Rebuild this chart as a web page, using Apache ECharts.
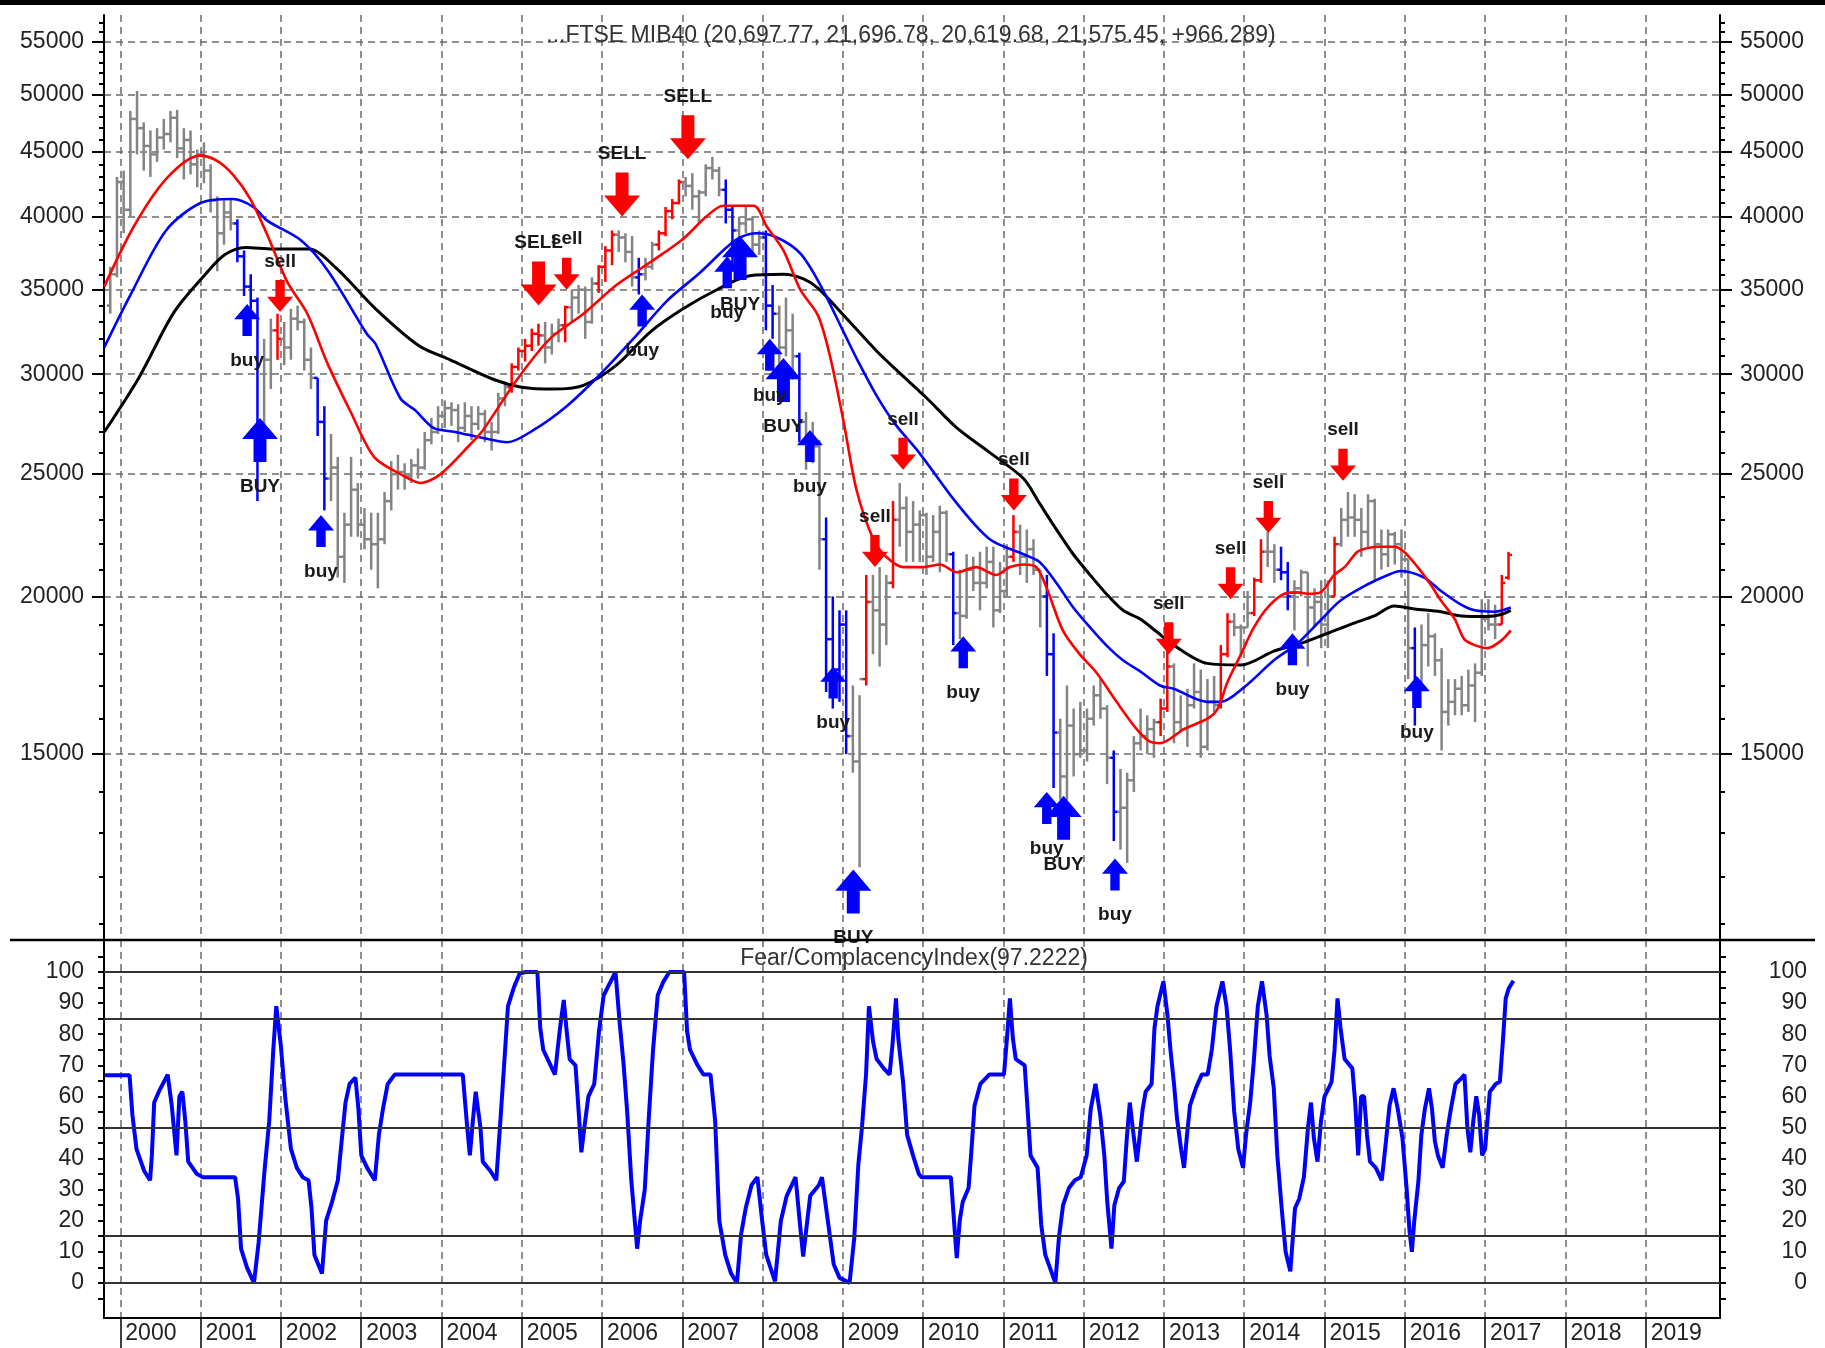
<!DOCTYPE html>
<html>
<head>
<meta charset="utf-8">
<title>FTSE MIB40 - Fear/Complacency Index</title>
<script src="https://cdn.jsdelivr.net/npm/echarts@6/dist/echarts.min.js"></script>
<style>
html, body { margin: 0; padding: 0; background: #fff; }
#chart { width: 1825px; height: 1348px; }
</style>
</head>
<body>
<div id="chart"></div>
<script>
// monthly OHLC bars, first bar = Nov 1999
const barStart = [1999, 11]
const opens = [
    34000, 36000,
    42600, 40500, 47800, 47000, 45500, 44800, 46200, 46500, 47900, 45300, 46000, 44000,
    44800, 43500, 41200, 38800, 40300, 39500, 37200, 35200, 34300, 27500, 30800, 32500,
    32000, 31500, 33200, 33000, 30800, 29800, 27500, 24800, 25300, 21500, 22800, 24300,
    22800, 22200, 22000, 22200, 23800, 25000, 25100, 24900, 25400, 25300, 26600, 27000,
    27800, 28200, 28100, 27200, 27800, 27400, 27900, 27000, 27000, 28700, 29300, 30400,
    31300, 31600, 32300, 32200, 31500, 32300, 32800, 33900, 34500, 35000, 33000, 35400,
    36500, 37600, 38700, 38500, 37500, 35800, 36000, 36500, 38000, 38800, 40400, 41000,
    42600, 42300, 41500, 41800, 43700, 43500, 42000, 40500, 39000, 39500, 39800, 38000,
    38500, 34000, 33500, 31500, 32500, 31000, 27500, 26500, 26300, 22200, 18500, 17500,
    19000, 15500, 14800, 17200, 19800, 19500, 19000, 20500, 23000, 23500, 22500, 22800,
    23200, 21500, 22500, 23300, 21600, 19400, 19300, 21000, 20500, 20500, 21300, 19500,
    20200, 21500, 22500, 21500, 21800, 21000, 20000, 18000, 15600, 14400, 15800, 15000,
    15100, 16000, 16700, 16300, 14900, 13500, 13600, 14300, 15300, 15500, 15700, 15900,
    16300, 17600, 15900, 15700, 16400, 16800, 15200, 16500, 16400, 18000, 19100, 18900,
    18900, 19400, 20600, 21700, 21700, 21000, 20900, 20000, 20300, 20900, 19600, 19800,
    19000, 20000, 22000, 23000, 23100, 23000, 22500, 23800, 22000, 21600, 22400, 22000,
    21400, 18200, 17000, 18300, 18600, 17800, 16200, 16500, 16900, 16400, 17000, 17400,
    19200, 19000, 19000, 20697.77
]
const highs = [
    36500, 43000,
    43500, 48500, 50300, 47500, 46800, 47000, 47800, 48500, 48600, 47000, 46800, 45200,
    45800, 44000, 41500, 41200, 41300, 39800, 37600, 36000, 34500, 32000, 33200, 33500,
    33000, 33800, 34000, 33200, 31500, 29800, 28300, 26900, 25800, 23300, 25800, 24600,
    23500, 23300, 23300, 24200, 25600, 25900, 25500, 25700, 26200, 27000, 27700, 28300,
    28600, 28500, 28400, 28500, 28300, 28300, 28100, 27500, 29000, 29600, 30600, 31500,
    32000, 32600, 32900, 33000, 32900, 33200, 34000, 35000, 35300, 35200, 35800, 36600,
    37900, 39000, 39000, 38800, 38600, 37100, 37100, 38200, 39000, 40700, 41300, 42800,
    43000, 43300, 42000, 44000, 44600, 43800, 42800, 40800, 40000, 40800, 40000, 39000,
    39000, 35300, 34000, 34500, 33500, 31200, 28000, 27500, 26600, 23100, 20000, 19500,
    19500, 17000, 16700, 20800, 20800, 21100, 20800, 23800, 24600, 24000, 23800, 23400,
    23300, 23200, 23600, 23400, 21700, 21000, 21600, 21500, 21700, 21900, 21900, 21300,
    22000, 23200, 22800, 22600, 22200, 21000, 20800, 18700, 16000, 17000, 16300, 16500,
    16300, 17000, 17200, 16400, 15100, 14600, 14500, 15500, 16300, 16100, 16000, 16600,
    18100, 17700, 16700, 16900, 17700, 17500, 17200, 17300, 18300, 19400, 19400, 19000,
    20200, 20700, 22200, 22500, 22000, 21900, 21300, 20600, 21000, 20900, 20300, 20600,
    20600, 22300, 23500, 24200, 24100, 23500, 24100, 23900, 22600, 22600, 22500, 22600,
    21400, 18900, 19000, 19400, 18700, 18200, 17200, 17200, 17300, 17500, 17700, 19900,
    19900, 19700, 20800, 21696.78
]
const lows = [
    33500, 35800,
    38800, 40000, 44800, 43500, 43000, 44200, 45200, 45800, 44500, 42800, 43200, 42200,
    42500, 40300, 36200, 38000, 39000, 36800, 34600, 33800, 23800, 27000, 29200, 30800,
    30500, 30800, 32500, 30200, 29200, 26800, 23400, 23800, 20700, 20500, 22300, 22300,
    21800, 21000, 20300, 22000, 23400, 24300, 24300, 24600, 24800, 25200, 26400, 26900,
    27200, 27300, 26500, 27000, 26600, 27100, 26500, 26100, 26900, 28300, 29000, 30200,
    30700, 31300, 31600, 30600, 31100, 31800, 31800, 33000, 33500, 32000, 32900, 34800,
    35500, 36600, 37500, 36800, 35200, 34700, 35600, 36300, 37600, 38600, 39800, 40900,
    41500, 40500, 39500, 41500, 42800, 41500, 39500, 36500, 37800, 38800, 37200, 37300,
    32500, 32000, 29800, 31000, 29700, 26500, 25200, 25500, 21000, 16800, 16300, 16500,
    15000, 14500, 12200, 17000, 18000, 17600, 18300, 20300, 21900, 21300, 21300, 21300,
    20800, 21300, 20900, 21300, 18300, 18500, 19200, 20200, 19500, 20300, 18900, 19400,
    20000, 21300, 20800, 20500, 20800, 18900, 17300, 14100, 13800, 13800, 14400, 14900,
    14800, 15800, 16000, 14200, 12800, 12600, 12300, 14000, 15100, 15000, 14900, 15500,
    16200, 15300, 15600, 15200, 16300, 14900, 15100, 16200, 16300, 17900, 18600, 17900,
    18900, 19300, 20500, 21100, 20500, 20600, 19500, 18800, 20000, 17600, 18900, 18200,
    18200, 20000, 21900, 22300, 22300, 21500, 21900, 20600, 21000, 21100, 21200, 20700,
    17200, 15800, 17000, 17600, 17300, 15100, 15800, 16100, 16100, 16200, 15900, 17300,
    18800, 18500, 19000, 20619.68
]
const closes = [
    36000, 42600,
    40500, 47800, 47000, 45500, 44800, 46200, 46500, 47900, 45300, 46000, 44000, 44800,
    43500, 41200, 38800, 40300, 39500, 37200, 35200, 34300, 27500, 30800, 32500, 32000,
    31500, 33200, 33000, 30800, 29800, 27500, 24800, 25300, 21500, 22800, 24300, 22800,
    22200, 22000, 22200, 23800, 25000, 25100, 24900, 25400, 25300, 26600, 27000, 27800,
    28200, 28100, 27200, 27800, 27400, 27900, 27000, 27000, 28700, 29300, 30400, 31300,
    31600, 32300, 32200, 31500, 32300, 32800, 33900, 34500, 35000, 33000, 35400, 36500,
    37600, 38700, 38500, 37500, 35800, 36000, 36500, 38000, 38800, 40400, 41000, 42600,
    42300, 41500, 41800, 43700, 43500, 42000, 40500, 39000, 39500, 39800, 38000, 38500,
    34000, 33500, 31500, 32500, 31000, 27500, 26500, 26300, 22200, 18500, 17500, 19000,
    15500, 14800, 17200, 19800, 19500, 19000, 20500, 23000, 23500, 22500, 22800, 23200,
    21500, 22500, 23300, 21600, 19400, 19300, 21000, 20500, 20500, 21300, 19500, 20200,
    21500, 22500, 21500, 21800, 21000, 20000, 18000, 15600, 14400, 15800, 15000, 15100,
    16000, 16700, 16300, 14900, 13500, 13600, 14300, 15300, 15500, 15700, 15900, 16300,
    17600, 15900, 15700, 16400, 16800, 15200, 16500, 16400, 18000, 19100, 18900, 18900,
    19400, 20600, 21700, 21700, 21000, 20900, 20000, 20300, 20900, 19600, 19800, 19000,
    20000, 22000, 23000, 23100, 23000, 22500, 23800, 22000, 21600, 22400, 22000, 21400,
    18200, 17000, 18300, 18600, 17800, 16200, 16500, 16900, 16400, 17000, 17400, 19200,
    19000, 19000, 20500, 21575.45
]
// bar colour state per month: g = normal, r = sell zone, b = buy zone
const barStates = [
    'gg',
    'gggggggggggg', 'gggggbbbbggr', 'gggggbbggggg', 'gggggggggggg', 'ggggggggggrr',
    'rrrgggrggggr', 'rrgggbggrrrr', 'ggggggbbgggg', 'bbgggbgggbbb', 'bggrgggrgggg',
    'ggggbggggggg', 'grggggbbgggg', 'ggggbggggggr', 'rgggggggrrgg', 'grrggbbggggg',
    'grgggggggggg', 'gbgggggggggg', 'ggrr'
].join('')

// moving averages [decimal year, value]
const blackMA = [
    [1999.80, 27000], [2000.23, 29800], [2000.67, 33600], [2001.06, 36000], [2001.30, 37300],
    [2001.56, 37800], [2001.90, 37700], [2002.35, 37700], [2002.69, 36400], [2003.18, 33800],
    [2003.72, 31600], [2004.11, 30800], [2004.66, 29700], [2005.00, 29300], [2005.39, 29200],
    [2005.77, 29400], [2006.18, 30500], [2006.60, 32400], [2007.01, 33800], [2007.43, 35000],
    [2007.84, 35900], [2008.26, 36000], [2008.51, 35700], [2008.69, 35100], [2009.03, 33300],
    [2009.42, 31300], [2009.70, 30100], [2010.05, 28700], [2010.42, 27200],
    [2010.83, 26000], [2011.25, 24800], [2011.45, 23700], [2011.66, 22600], [2011.87, 21600],
    [2012.08, 20800], [2012.28, 20100], [2012.49, 19500], [2012.70, 19200], [2012.91, 18750],
    [2013.12, 18300], [2013.54, 17700], [2013.96, 17650], [2014.37, 18100], [2014.70, 18350],
    [2015.04, 18700], [2015.37, 19050], [2015.62, 19300], [2015.87, 19650], [2016.12, 19550],
    [2016.45, 19450], [2016.70, 19300], [2017.03, 19280], [2017.20, 19350], [2017.32, 19500]
]
const blueMA = [
    [1999.80, 31500], [2000.13, 34700], [2000.57, 39000], [2001.00, 41000], [2001.40, 41300],
    [2001.66, 40700], [2001.83, 39700], [2002.25, 38300], [2002.59, 36200], [2003.07, 32300],
    [2003.18, 31700], [2003.49, 28700], [2003.67, 28100], [2003.90, 27200], [2004.17, 27000],
    [2004.52, 26700], [2004.82, 26500], [2005.15, 27100], [2005.56, 28300], [2005.98, 30000],
    [2006.39, 32000], [2006.81, 34300], [2007.22, 36100], [2007.55, 37800], [2007.72, 38500],
    [2007.93, 38800], [2008.18, 38500], [2008.47, 37400], [2008.72, 35300], [2009.03, 32200],
    [2009.18, 30800], [2009.42, 28850], [2009.65, 27400], [2009.95, 26000],
    [2010.42, 23700], [2010.83, 22200], [2011.25, 21600], [2011.45, 21300], [2011.66, 20500],
    [2011.87, 19600], [2012.08, 18900], [2012.28, 18300], [2012.49, 17800], [2012.70, 17450],
    [2012.95, 17000], [2013.12, 16900], [2013.54, 16500], [2013.71, 16500], [2014.00, 16950],
    [2014.37, 17800], [2014.66, 18350], [2014.95, 19150], [2015.20, 19850], [2015.54, 20450],
    [2015.79, 20800], [2015.95, 20950], [2016.24, 20700], [2016.45, 20200], [2016.70, 19700],
    [2016.87, 19500], [2017.12, 19450], [2017.32, 19600]
]
const redMA = [
    [1999.80, 35200], [2000.17, 39300], [2000.58, 42900], [2000.99, 44700], [2001.20, 44300],
    [2001.40, 43200], [2001.62, 41300], [2001.83, 38700], [2002.08, 35500], [2002.33, 33500],
    [2002.58, 30600], [2002.87, 28000], [2003.16, 25800], [2003.49, 25000], [2003.74, 24600],
    [2003.99, 25000], [2004.36, 26400], [2004.52, 27100], [2004.94, 29700], [2005.35, 32000],
    [2005.77, 33500], [2006.18, 35300], [2006.60, 36800], [2007.01, 38400], [2007.30, 40000],
    [2007.51, 40800], [2007.89, 40800], [2008.05, 39300], [2008.26, 37600], [2008.47, 35000],
    [2008.69, 33400], [2008.84, 31000], [2009.01, 27500], [2009.17, 24300], [2009.38, 22200],
    [2009.54, 21500], [2009.75, 21100], [2010.00, 21100], [2010.21, 21200], [2010.42, 20900],
    [2010.66, 21100], [2010.91, 20800], [2011.08, 21100], [2011.25, 21200], [2011.41, 21100],
    [2011.54, 20300], [2011.74, 18800], [2011.95, 18000], [2012.16, 17400], [2012.41, 16500],
    [2012.66, 15700], [2012.82, 15350], [2012.95, 15300], [2013.25, 15700], [2013.54, 16000],
    [2013.67, 16300], [2013.79, 17100], [2013.96, 18000], [2014.12, 18900], [2014.29, 19600],
    [2014.50, 20100], [2014.66, 20150], [2014.79, 20100], [2014.95, 20150], [2015.12, 20800],
    [2015.25, 21100], [2015.41, 21700], [2015.54, 21850], [2015.70, 21900], [2015.87, 21900],
    [2015.99, 21700], [2016.16, 21100], [2016.33, 20400], [2016.45, 19850], [2016.62, 19200],
    [2016.74, 18500], [2016.87, 18300], [2017.03, 18200], [2017.20, 18450], [2017.32, 18800]
]

// signals: [decimal year, arrow tip value, text, big]
const sellSignals = [
    [2001.99, 33600, 'sell', 0], [2005.21, 34000, 'SELL', 1], [2005.56, 35000, 'sell', 0],
    [2006.25, 40000, 'SELL', 1], [2007.07, 44400, 'SELL', 1], [2009.40, 21100, 'sell', 0],
    [2009.75, 25200, 'sell', 0], [2011.13, 23400, 'sell', 0], [2013.06, 18000, 'sell', 0],
    [2013.83, 19900, 'sell', 0], [2014.30, 22450, 'sell', 0], [2015.23, 24700, 'sell', 0]
]
const buySignals = [
    [2001.58, 34100, 'buy', 0], [2001.74, 27700, 'BUY', 1], [2002.50, 23200, 'buy', 0],
    [2006.50, 34700, 'buy', 0], [2007.56, 37200, 'buy', 0], [2007.72, 38600, 'BUY', 1],
    [2008.09, 32000, 'buy', 0], [2008.26, 30900, 'BUY', 1], [2008.59, 27100, 'buy', 0],
    [2008.88, 17600, 'buy', 0], [2009.13, 12150, 'BUY', 1], [2010.50, 18600, 'buy', 0],
    [2011.54, 14000, 'buy', 0], [2011.75, 13900, 'BUY', 1], [2012.39, 12400, 'buy', 0],
    [2014.60, 18700, 'buy', 0], [2016.15, 17300, 'buy', 0]
]

// Fear/Complacency index [decimal year, value]
const fci = [
    [1999.81, 66.8], [2000.115, 66.8], [2000.151, 54], [2000.202, 43], [2000.298, 36], [2000.371, 33],
    [2000.393, 41], [2000.422, 58], [2000.48, 61.5], [2000.59, 67], [2000.641, 57], [2000.70, 41],
    [2000.736, 60], [2000.773, 61.5], [2000.81, 52], [2000.846, 39], [2000.955, 35], [2001.028, 34],
    [2001.43, 34], [2001.467, 27], [2001.504, 11], [2001.577, 5], [2001.665, 0], [2001.723, 13],
    [2001.796, 36], [2001.855, 52], [2001.906, 75], [2001.943, 89], [2002.001, 76], [2002.053, 60],
    [2002.126, 43], [2002.199, 37], [2002.272, 34], [2002.345, 33], [2002.382, 24], [2002.418, 9],
    [2002.512, 3], [2002.564, 20], [2002.637, 26], [2002.71, 33], [2002.747, 43], [2002.805, 58],
    [2002.856, 64], [2002.929, 66], [2002.966, 56], [2003.002, 41], [2003.075, 37], [2003.17, 33],
    [2003.221, 47.6], [2003.272, 56], [2003.331, 64], [2003.418, 67], [2004.266, 67], [2004.318, 51],
    [2004.354, 41], [2004.391, 52], [2004.427, 61.5], [2004.486, 50], [2004.515, 39], [2004.61, 36],
    [2004.683, 33], [2004.734, 52], [2004.778, 69], [2004.829, 89], [2004.902, 95], [2004.975, 99.5],
    [2005.048, 100], [2005.195, 100], [2005.231, 82], [2005.268, 75], [2005.341, 71], [2005.414, 67],
    [2005.451, 76], [2005.487, 84], [2005.524, 91], [2005.56, 81], [2005.597, 72], [2005.67, 70],
    [2005.707, 56], [2005.743, 42], [2005.78, 50], [2005.831, 60], [2005.904, 64], [2005.963, 81],
    [2006.021, 92.5], [2006.109, 97], [2006.168, 100], [2006.219, 84], [2006.27, 70], [2006.314, 55],
    [2006.365, 33], [2006.438, 11], [2006.475, 20], [2006.533, 30], [2006.585, 54], [2006.636, 75],
    [2006.694, 92.5], [2006.767, 97], [2006.84, 100], [2007.023, 100], [2007.06, 81], [2007.096, 75],
    [2007.191, 70], [2007.264, 67], [2007.352, 67], [2007.41, 52], [2007.461, 20], [2007.535, 9],
    [2007.608, 3], [2007.681, 0], [2007.732, 15.5], [2007.79, 24], [2007.863, 31.5], [2007.936, 34],
    [2007.995, 20], [2008.046, 9], [2008.155, 0.5], [2008.228, 20], [2008.301, 28], [2008.411, 34],
    [2008.462, 20], [2008.506, 8.5], [2008.557, 20], [2008.594, 28], [2008.703, 31.5], [2008.74, 34],
    [2008.813, 20], [2008.886, 6], [2008.959, 1.6], [2009.084, 0], [2009.142, 14.4], [2009.193, 38],
    [2009.238, 50], [2009.289, 67], [2009.325, 89], [2009.377, 77.5], [2009.421, 72], [2009.509, 69],
    [2009.582, 67], [2009.618, 76.5], [2009.662, 91.5], [2009.691, 78.6], [2009.75, 64.7], [2009.801, 47.6],
    [2009.874, 41], [2009.947, 35], [2009.98, 34], [2010.346, 34], [2010.397, 15.5], [2010.419, 8],
    [2010.456, 20], [2010.493, 26], [2010.566, 30.5], [2010.603, 43], [2010.64, 57], [2010.713, 64],
    [2010.824, 67], [2011.007, 67], [2011.044, 78.6], [2011.081, 91.5], [2011.118, 78.6], [2011.154, 72],
    [2011.265, 70], [2011.301, 56], [2011.338, 41], [2011.426, 37], [2011.471, 18.7], [2011.522, 9],
    [2011.596, 3.7], [2011.647, 0], [2011.691, 14.4], [2011.743, 25], [2011.816, 30.5], [2011.89, 33],
    [2011.963, 34], [2012.037, 41], [2012.088, 56], [2012.147, 64], [2012.206, 54], [2012.257, 41],
    [2012.294, 26], [2012.346, 11], [2012.382, 25], [2012.441, 30.5], [2012.50, 32.6], [2012.537, 46.5],
    [2012.574, 58], [2012.61, 50], [2012.662, 39], [2012.699, 47.6], [2012.735, 56], [2012.772, 61.5],
    [2012.846, 64], [2012.882, 82], [2012.919, 89], [2012.993, 97], [2013.044, 86], [2013.081, 75],
    [2013.125, 64], [2013.162, 53], [2013.213, 43], [2013.25, 37], [2013.287, 47.6], [2013.324, 57],
    [2013.397, 62.6], [2013.471, 67], [2013.544, 67], [2013.596, 75], [2013.654, 89], [2013.728, 97],
    [2013.779, 89], [2013.824, 75], [2013.875, 55], [2013.926, 43], [2013.985, 37], [2014.022, 47.6],
    [2014.074, 58], [2014.118, 71], [2014.169, 89], [2014.221, 97], [2014.279, 86], [2014.316, 73],
    [2014.368, 62.6], [2014.412, 41], [2014.463, 25], [2014.515, 10], [2014.574, 3.7], [2014.632, 24],
    [2014.684, 27], [2014.743, 34], [2014.794, 50], [2014.831, 58], [2014.868, 46.5], [2014.912, 39],
    [2014.956, 52], [2015.00, 60], [2015.051, 62.6], [2015.088, 64.7], [2015.125, 75], [2015.162, 91.5],
    [2015.199, 82], [2015.25, 72], [2015.346, 69], [2015.382, 58], [2015.419, 41], [2015.456, 60],
    [2015.493, 60], [2015.529, 47.6], [2015.566, 39], [2015.64, 37], [2015.713, 33], [2015.765, 45.5],
    [2015.809, 57], [2015.86, 62.6], [2015.912, 56], [2015.971, 46.5], [2016.022, 30.5], [2016.059, 16.6],
    [2016.088, 10], [2016.118, 20], [2016.169, 32.6], [2016.206, 47.6], [2016.25, 56], [2016.301, 62.6],
    [2016.338, 56], [2016.375, 45.5], [2016.412, 41], [2016.471, 37], [2016.522, 47.6], [2016.574, 56],
    [2016.632, 64], [2016.706, 65.8], [2016.743, 67], [2016.779, 50], [2016.816, 42], [2016.853, 52],
    [2016.89, 60], [2016.926, 54], [2016.963, 41], [2017.00, 43], [2017.059, 61.5], [2017.132, 64],
    [2017.184, 64.7], [2017.221, 77.5], [2017.257, 91.5], [2017.294, 94.7], [2017.353, 97.2]
]
const fciLevels = [0, 15, 50, 85, 100]

// axis ticks
const yearTicks = [2000, 2001, 2002, 2003, 2004, 2005, 2006, 2007, 2008, 2009,
    2010, 2011, 2012, 2013, 2014, 2015, 2016, 2017, 2018, 2019]
const priceTicks = [15000, 20000, 25000, 30000, 35000, 40000, 45000, 50000, 55000]
const fciLabels = [0, 10, 20, 30, 40, 50, 60, 70, 80, 90, 100]

const priceMinorTicks = []
for (let v = 11000; v <= 57000; v += 1000) priceMinorTicks.push(v)
const fciMinorTicks = []
for (let v = -5; v <= 105; v += 5) fciMinorTicks.push(v)

const X_MIN = 1999.797
const X_MAX = 2019.926
const P_MIN = 10685
const P_MAX = 57780
const FONT = "'Liberation Sans', Arial, sans-serif"
const BAR_COLORS = { g: '#848484', r: '#ff0000', b: '#0000ff' }
const STATE_CODE = { g: 0, r: 1, b: 2 }
const CODE_COLOR = [BAR_COLORS.g, BAR_COLORS.r, BAR_COLORS.b]
const DOWN_ARROW = 'path://M32,0 L68,0 L68,52 L100,52 L50,100 L0,52 L32,52 Z'
const UP_ARROW = 'path://M32,100 L68,100 L68,48 L100,48 L50,0 L0,48 L32,48 Z'
const ARROW_SMALL = [26, 32]
const ARROW_BIG = [36, 44]

const bars = []
for (let i = 0; i < closes.length; i++) {
    const m = barStart[1] - 1 + i
    const t = barStart[0] + Math.floor(m / 12) + ((m % 12) + 0.5) / 12
    bars.push([t, opens[i], highs[i], lows[i], closes[i], STATE_CODE[barStates[i]]])
}

function renderBar(params, api) {
    const t = api.value(0)
    const o = api.coord([t, api.value(1)])
    const h = api.coord([t, api.value(2)])
    const l = api.coord([t, api.value(3)])
    const c = api.coord([t, api.value(4)])
    const color = CODE_COLOR[api.value(5)]
    return {
        type: 'group',
        children: [
            { type: 'line', shape: { x1: h[0], y1: h[1], x2: l[0], y2: l[1] }, style: { stroke: color, lineWidth: 2.5 } },
            { type: 'line', shape: { x1: o[0] - 3.5, y1: o[1], x2: o[0], y2: o[1] }, style: { stroke: color, lineWidth: 2.5 } },
            { type: 'line', shape: { x1: c[0], y1: c[1], x2: c[0] + 3.5, y2: c[1] }, style: { stroke: color, lineWidth: 2.5 } }
        ]
    }
}

function signalItems(list, down) {
    return list.map(function (s) {
        const size = s[3] ? ARROW_BIG : ARROW_SMALL
        return {
            name: s[2],
            value: [s[0], s[1]],
            symbolSize: size,
            symbolOffset: [0, down ? -size[1] / 2 : size[1] / 2]
        }
    })
}

const dashed = { type: [7, 5], color: '#6a6a6a', width: 1.5 }
const axisBlack = { color: '#000', width: 2 }
const tickLabel = { fontSize: 23, color: '#222', fontFamily: FONT }

function priceAxis(position, minor) {
    return {
        type: 'log',
        logBase: 10,
        gridIndex: 0,
        position: position,
        min: P_MIN,
        max: P_MAX,
        axisLine: { show: !minor, onZero: false, lineStyle: axisBlack },
        axisTick: {
            show: true,
            customValues: minor ? priceMinorTicks : priceTicks,
            length: minor ? 5 : 12,
            lineStyle: { color: '#000', width: 2 }
        },
        axisLabel: minor ? { show: false } : Object.assign({
            customValues: priceTicks,
            margin: 20,
            formatter: function (v) { return String(Math.round(v)) }
        }, tickLabel),
        splitLine: { show: !minor && position === 'left', lineStyle: dashed }
    }
}

function fciAxis(position) {
    return {
        type: 'value',
        gridIndex: 1,
        position: position,
        min: -11.3,
        max: 110.3,
        axisLine: { show: true, onZero: false, lineStyle: axisBlack },
        axisTick: { show: true, customValues: fciMinorTicks, length: 6, lineStyle: { color: '#000', width: 2 } },
        axisLabel: Object.assign({
            customValues: fciLabels,
            margin: position === 'left' ? 20 : 87,
            align: 'right',
            formatter: function (v) { return String(v) }
        }, tickLabel),
        splitLine: { show: false }
    }
}

const chart = echarts.init(document.getElementById('chart'))
chart.setOption({
    animation: false,
    backgroundColor: '#fff',
    textStyle: { fontFamily: FONT },
    grid: [
        { left: 104, right: 105, top: 15, height: 925 },
        { left: 104, right: 105, top: 940, height: 378 }
    ],
    xAxis: [
        {
            type: 'value', gridIndex: 0, min: X_MIN, max: X_MAX,
            axisLine: { show: false },
            axisTick: { show: false, customValues: yearTicks },
            axisLabel: { show: false },
            splitLine: { show: true, lineStyle: dashed }
        },
        {
            type: 'value', gridIndex: 1, min: X_MIN, max: X_MAX,
            axisLine: { show: true, onZero: false, lineStyle: axisBlack },
            axisTick: { show: true, customValues: yearTicks, length: 32, lineStyle: { color: '#000', width: 1.5 } },
            axisLabel: {
                customValues: yearTicks,
                align: 'left',
                verticalAlign: 'top',
                margin: 4,
                padding: [0, 0, 0, 5],
                fontSize: 23,
                color: '#222',
                fontFamily: FONT,
                formatter: function (v) { return String(v) }
            },
            splitLine: { show: true, lineStyle: dashed }
        }
    ],
    yAxis: [
        priceAxis('left', false),
        priceAxis('left', true),
        priceAxis('right', false),
        priceAxis('right', true),
        fciAxis('left'),
        fciAxis('right')
    ],
    graphic: [
        { type: 'rect', shape: { x: 0, y: 0, width: 1825, height: 5 }, style: { fill: '#000' }, z: 100 },
        { type: 'line', shape: { x1: 10, y1: 940, x2: 1815, y2: 940 }, style: { stroke: '#000', lineWidth: 2.5 }, z: 100 },
        {
            type: 'text', x: 911, y: 36, z: 100,
            style: {
                text: '...FTSE MIB40 (20,697.77, 21,696.78, 20,619.68, 21,575.45, +966.289)',
                fill: '#333', font: '23px ' + FONT, align: 'center', verticalAlign: 'middle'
            }
        },
        {
            type: 'text', x: 914, y: 959, z: 100,
            style: {
                text: 'Fear/ComplacencyIndex(97.2222)',
                fill: '#333', font: '23px ' + FONT, align: 'center', verticalAlign: 'middle'
            }
        }
    ],
    series: [
        {
            type: 'custom',
            name: 'FTSE MIB40',
            xAxisIndex: 0,
            yAxisIndex: 0,
            renderItem: renderBar,
            encode: { x: 0, y: [1, 2, 3, 4] },
            data: bars,
            silent: true,
            z: 2
        },
        {
            type: 'line', xAxisIndex: 0, yAxisIndex: 0, data: blackMA,
            smooth: 0.3, showSymbol: false, silent: true, z: 3,
            lineStyle: { color: '#000', width: 3 }
        },
        {
            type: 'line', xAxisIndex: 0, yAxisIndex: 0, data: blueMA,
            smooth: 0.3, showSymbol: false, silent: true, z: 3,
            lineStyle: { color: '#0000ff', width: 2.6 }
        },
        {
            type: 'line', xAxisIndex: 0, yAxisIndex: 0, data: redMA,
            smooth: 0.3, showSymbol: false, silent: true, z: 3,
            lineStyle: { color: '#ff0000', width: 2.6 }
        },
        {
            type: 'scatter', xAxisIndex: 0, yAxisIndex: 0,
            data: signalItems(sellSignals, true),
            symbol: DOWN_ARROW,
            itemStyle: { color: '#ff0000', opacity: 1 },
            label: {
                show: true, position: 'top', distance: 9, formatter: '{b}',
                fontSize: 19, fontWeight: 'bold', color: '#1a1a1a', fontFamily: FONT
            },
            silent: true, z: 5
        },
        {
            type: 'scatter', xAxisIndex: 0, yAxisIndex: 0,
            data: signalItems(buySignals, false),
            symbol: UP_ARROW,
            itemStyle: { color: '#0000ff', opacity: 1 },
            label: {
                show: true, position: 'bottom', distance: 15, formatter: '{b}',
                fontSize: 19, fontWeight: 'bold', color: '#1a1a1a', fontFamily: FONT
            },
            silent: true, z: 5
        },
        {
            type: 'line', xAxisIndex: 1, yAxisIndex: 4, data: fci,
            showSymbol: false, silent: true, z: 4,
            lineStyle: { color: '#0000ff', width: 4 },
            markLine: {
                silent: true,
                symbol: 'none',
                label: { show: false },
                lineStyle: { color: '#333', width: 2, type: 'solid' },
                data: fciLevels.map(function (v) { return { yAxis: v } })
            }
        }
    ]
})
</script>
</body>
</html>
